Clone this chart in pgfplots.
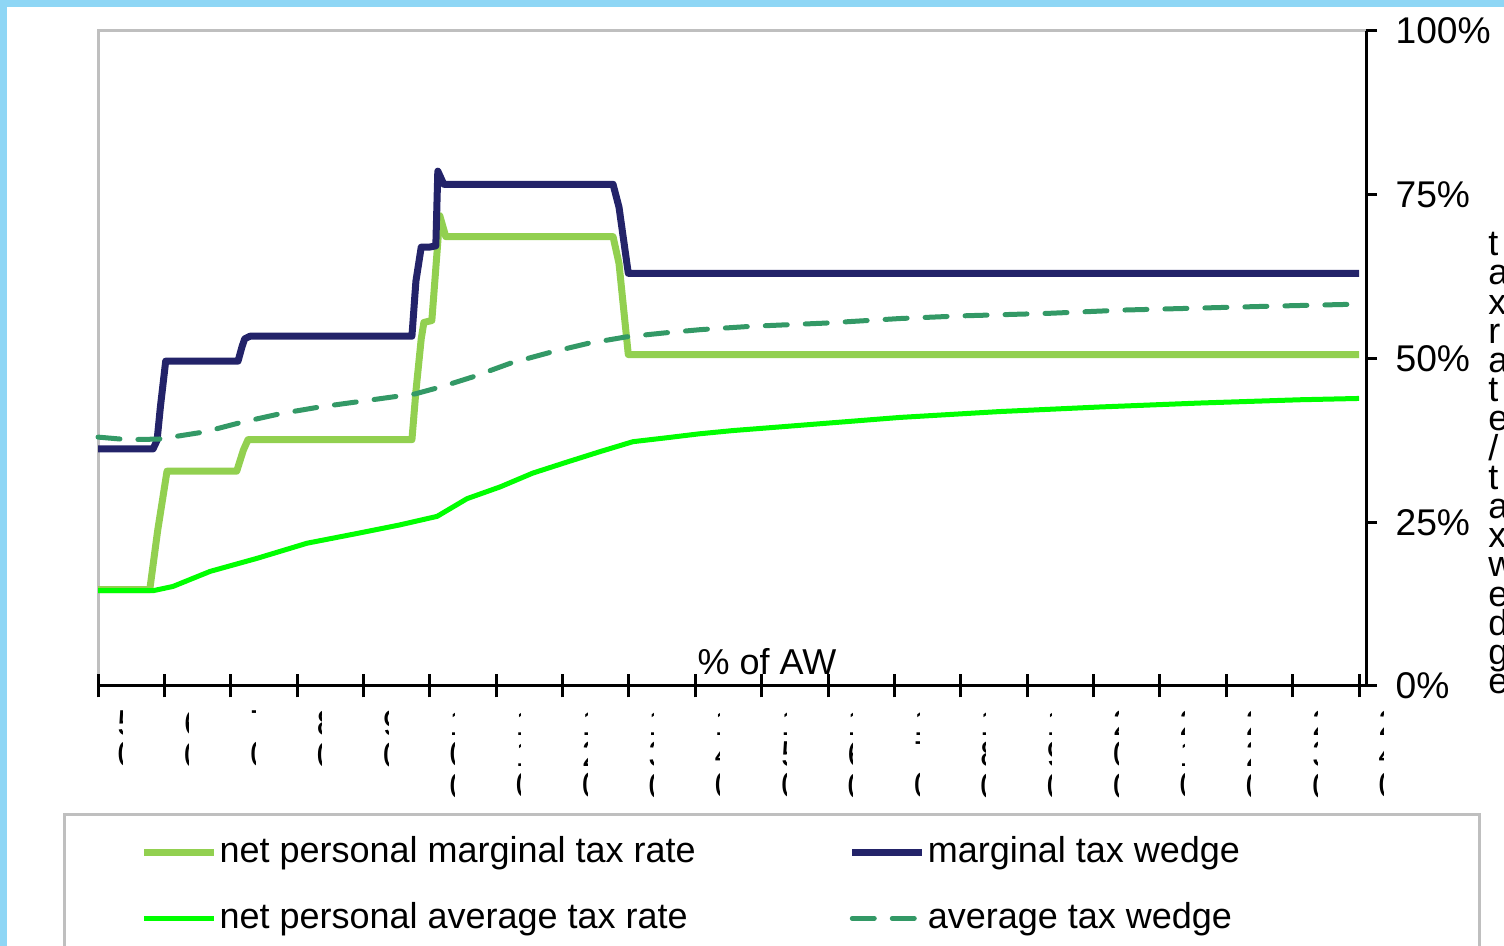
\documentclass[border=0pt]{standalone}
\usepackage{pgfplots}
\pgfplotsset{compat=1.18}
\usepackage{fontspec}
\setmainfont{Liberation Sans}
\usepackage{trimclip}
\definecolor{navyline}{RGB}{35,35,105}
\definecolor{lgreen}{RGB}{146,208,80}
\definecolor{bgreen}{RGB}{0,255,0}
\definecolor{dgreen}{RGB}{51,153,102}
\definecolor{frameblue}{RGB}{142,214,245}
\definecolor{boxgray}{RGB}{191,191,191}
\newcommand{\frag}[1]{\clipbox*{0pt 0pt 2.6pt {\height}}{\shortstack[l]{#1}}}
\newcommand{\bigf}{\fontsize{18}{21.6}\selectfont}
\begin{document}
\begin{tikzpicture}
\draw[boxgray, line width=1.5pt] (0pt,0pt) -- (0pt,327.5pt) -- (634pt,327.5pt);
\begin{axis}[
  at={(0pt,0pt)}, anchor=south west,
  scale only axis, width=634pt, height=327.5pt,
  xmin=50, xmax=241.05, ymin=0, ymax=100,
  axis x line*=bottom, axis y line*=right,
  axis line style={line width=1.5pt, black, -},
  xtick={50,60,...,240},
  xticklabels={\frag{5\\0},\frag{6\\0},\frag{7\\0},\frag{8\\0},\frag{9\\0},\frag{1\\0\\0},\frag{1\\1\\0},\frag{1\\2\\0},\frag{1\\3\\0},\frag{1\\4\\0},\frag{1\\5\\0},\frag{1\\6\\0},\frag{1\\7\\0},\frag{1\\8\\0},\frag{1\\9\\0},\frag{2\\0\\0},\frag{2\\1\\0},\frag{2\\2\\0},\frag{2\\3\\0},\frag{2\\4\\0}},
  ytick={0,25,50,75,100},
  yticklabels={0\%,25\%,50\%,75\%,100\%},
  xtick align=center, ytick align=outside,
  tick style={line width=1.5pt, black},
  xtick style={/pgfplots/major tick length=11.5pt},
  ytick style={/pgfplots/major tick length=5.5pt},
  every tick label/.append style={font=\bigf},
  yticklabel style={anchor=west, xshift=7pt, font=\fontsize{18.6}{22}\selectfont},
  xticklabel style={anchor=north west, inner sep=0pt, xshift=9.5pt, yshift=-10pt},
  xlabel={\% of AW},
  xlabel style={font=\bigf, at={(axis description cs:0.5276,0.0168)}, anchor=base, inner sep=0pt},
  legend columns=2,
  legend cell align=left,
  legend image code/.code={\draw[#1] (0pt,0pt) -- (35pt,0pt);},
  legend style={at={(axis description cs:0.0332,-0.226)}, anchor=north west, draw=none, fill=none,
    inner sep=0pt, row sep=15pt, font=\bigf,
    nodes={inner sep=0pt, text height=14pt, text depth=4pt},
    /tikz/every odd column/.append style={column sep=1pt},
    /tikz/every even column/.append style={column sep=76.5pt}},
  clip=false,
]
\addplot[lgreen, line width=3.5pt, line join=round] coordinates {
(50,14.7) (57.8,14.7) (59.0,23.8) (60.4,32.8) (70.9,32.8) (71.9,36.0) (72.6,37.6) (97.3,37.6) (97.9,45.0) (98.7,53.0) (99.1,55.5) (100.3,55.8) (101.5,71.8) (102.4,68.6) (127.6,68.6) (128.5,64.5) (129.9,50.6) (240,50.6)};
\addlegendentry{net personal marginal tax rate}
\addplot[navyline, line width=3.5pt, line join=round] coordinates {
(50,36.2) (58.3,36.2) (58.9,37.5) (59.4,42.6) (60.2,49.6) (71.1,49.6) (71.7,51.8) (72.1,53.0) (72.9,53.4) (97.3,53.4) (97.9,61.8) (98.7,67.0) (99.9,67.0) (100.9,67.2) (101.2,78.6) (102.1,76.6) (127.6,76.6) (128.5,73.1) (129.9,63.0) (240,63.0)};
\addlegendentry{marginal tax wedge}
\addplot[bgreen, line width=2.5pt, line join=round] coordinates {
(50,14.55) (58.3,14.55) (61.3,15.2) (66.9,17.5) (74.0,19.5) (81.5,21.8) (89.1,23.3) (95.5,24.6) (101.1,25.9) (105.6,28.6) (110.6,30.4) (115.5,32.5) (120.7,34.2) (125.7,35.8) (130.6,37.3) (135.7,37.9) (140.6,38.5) (145.7,39.0) (150.8,39.4) (155.8,39.8) (170.8,41.0) (185.9,41.9) (201.0,42.6) (216.0,43.2) (231.1,43.7) (240,43.9)};
\addlegendentry{net personal average tax rate}
\addplot[dgreen, line width=2.5pt, line cap=round, dash pattern=on 11pt off 9pt] coordinates {
(50,38.0) (54.5,37.6) (59.2,37.7) (66.1,38.8) (71.8,40.3) (77.6,41.6) (83.4,42.6) (89.2,43.4) (94.9,44.2) (97.8,44.6) (101.8,45.7) (106.5,47.2) (112.2,49.3) (118.0,50.9) (123.8,52.3) (129.6,53.3) (135.3,53.9) (140.7,54.4) (148.2,54.9) (159.5,55.4) (170.8,56.1) (179.9,56.5) (193.4,56.9) (204.7,57.4) (216.0,57.7) (227.3,58.0) (240,58.3)};
\addlegendentry{average tax wedge}
\end{axis}
\fill[frameblue] (-49pt,-130pt) rectangle (-45.5pt,343pt);
\fill[frameblue] (-49pt,339.6pt) rectangle (703pt,343pt);
\draw[boxgray, line width=1.5pt] (-16.5pt,-140pt) rectangle (690.5pt,-64.5pt);
\node[anchor=north west, inner sep=0pt, align=left, font=\fontsize{18}{14.6}\selectfont] at (695pt,227pt)
  {t\\a\\x\\r\\a\\t\\e\\/\\t\\a\\x\\w\\e\\d\\g\\e};
\pgfresetboundingbox
\useasboundingbox (-49pt,-130pt) rectangle (703pt,343pt);
\end{tikzpicture}
\end{document}
